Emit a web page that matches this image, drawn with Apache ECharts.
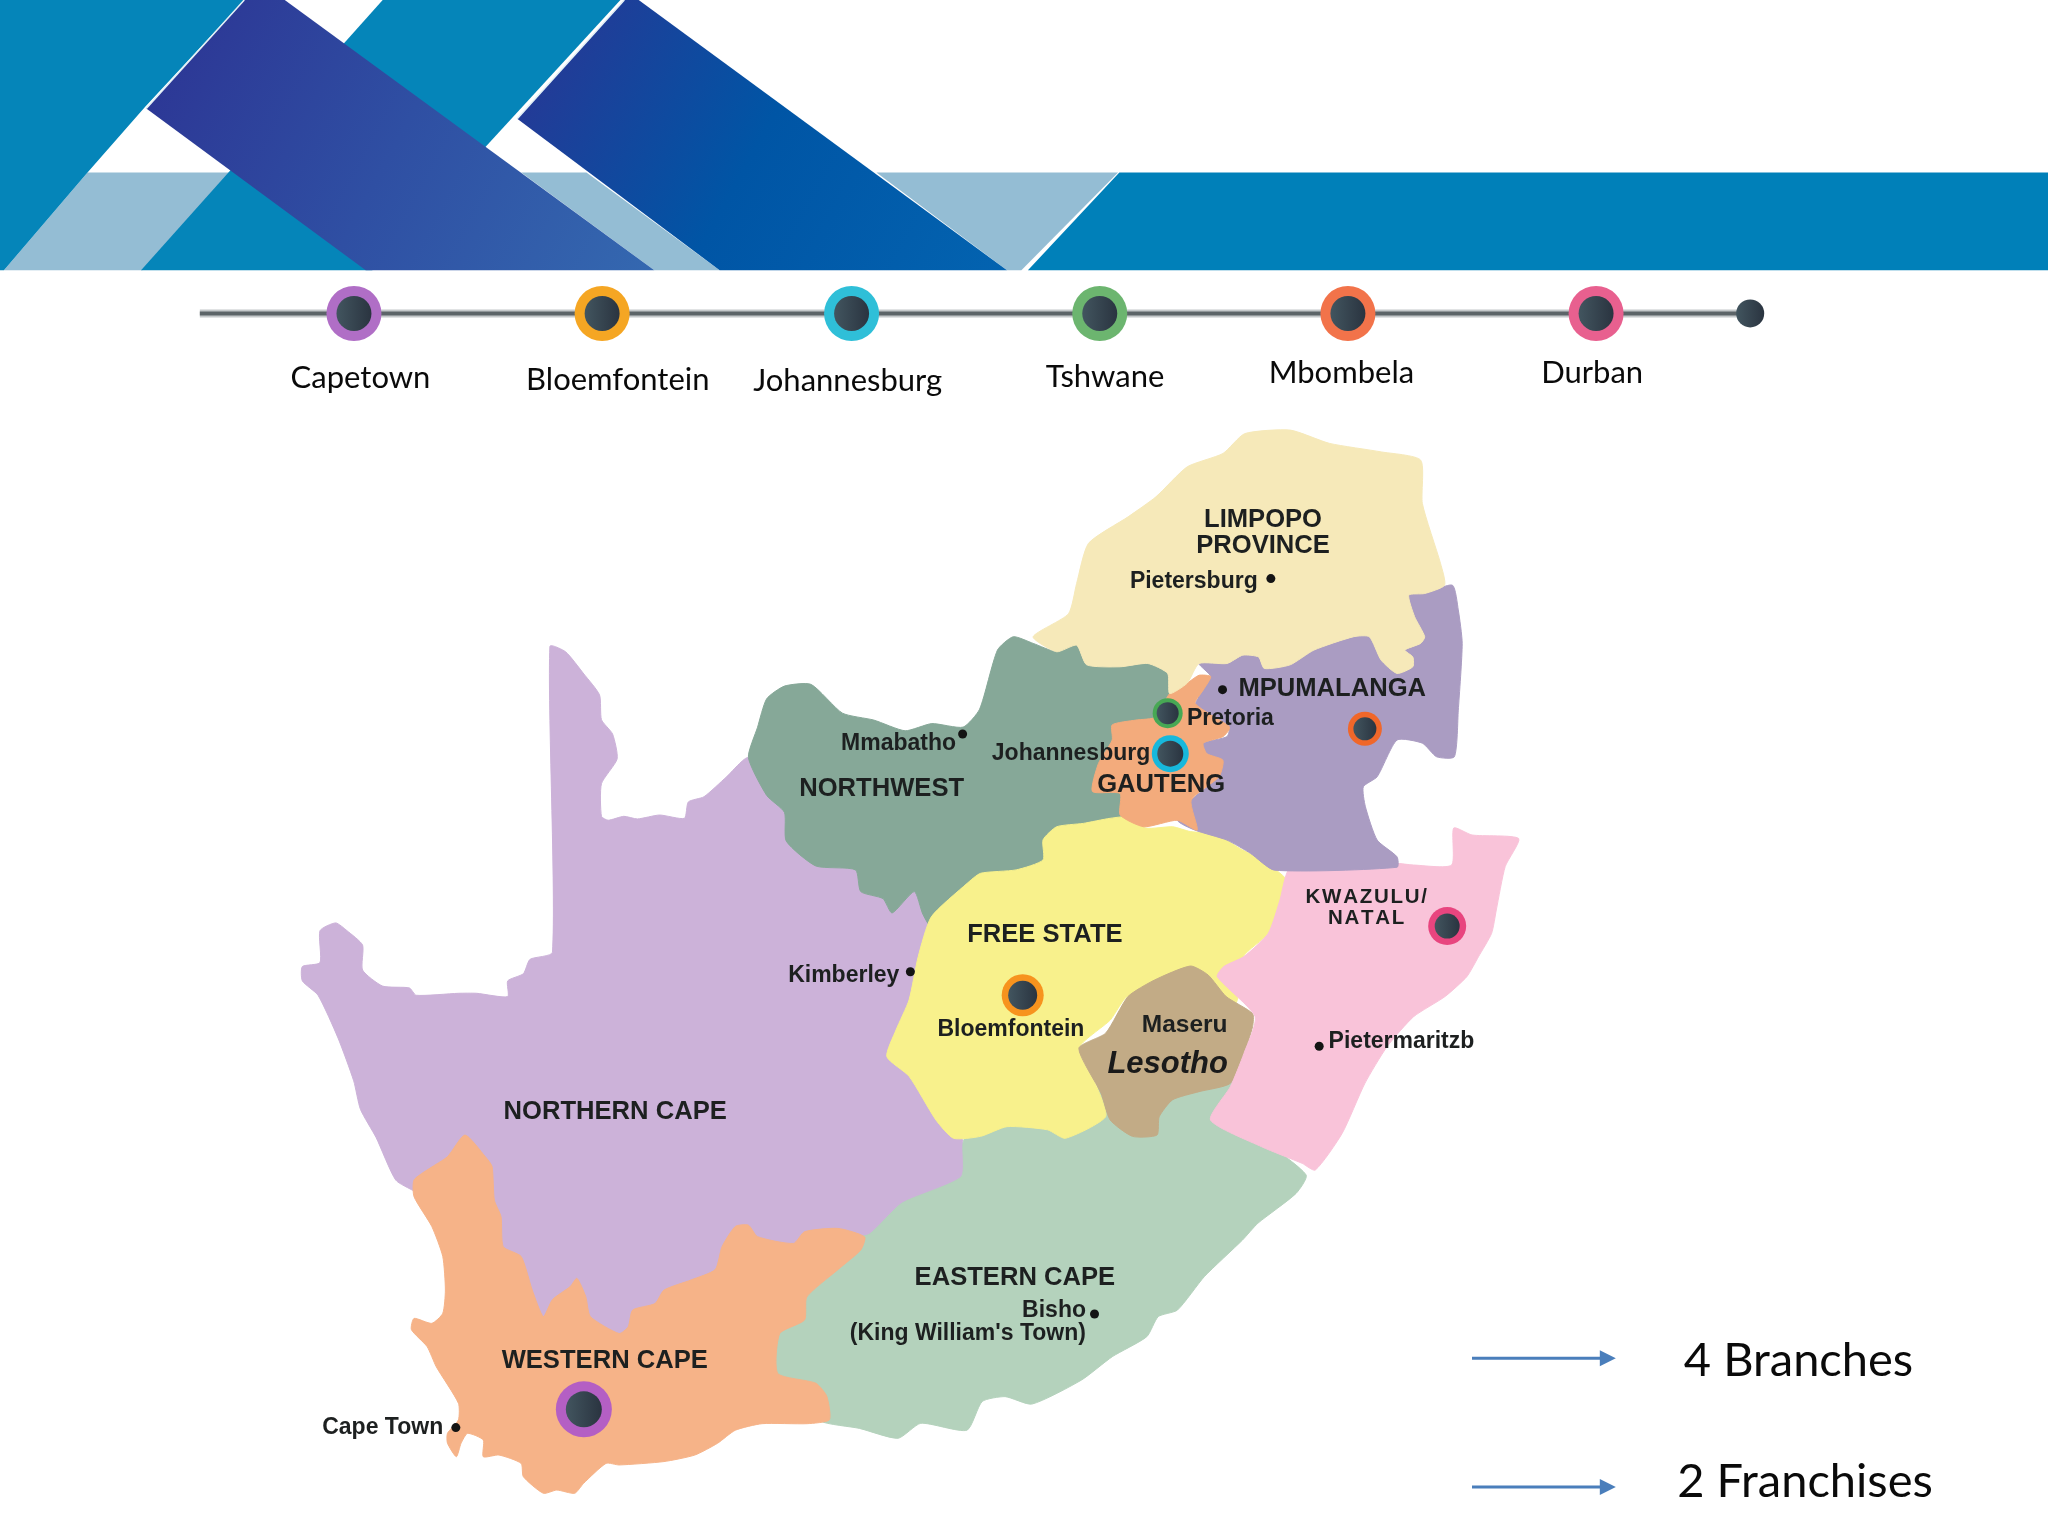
<!DOCTYPE html>
<html><head><meta charset="utf-8">
<style>html,body{margin:0;padding:0;background:#fff}#c{width:2048px;height:1536px}</style>
<script src="https://cdn.jsdelivr.net/npm/echarts@6/dist/echarts.min.js"></script>
</head><body><div id="c"></div>
<script>
// ---------- banner shapes ----------
const bandRight=[[857,132],[1568,132],[1568,207],[787,207]];
const lightLeft=[[67,132],[176,132],[109,207],[3,207]];
const lightMid=[[399,132],[449,132],[551,207],[501,207]];
const lightRight=[[671,132],[856,132],[782,207],[771,207]];
const tealLeft=[[0,0],[187,0],[111,82],[67,132],[3,207],[0,207]];
const tealMid=[[293,0],[475,0],[285,207],[108,207]];
const darkOne=[[187,0],[218,0],[501,207],[280,207],[112,83]];
const darkTwo=[[478,0],[489,0],[771,207],[551,207],[396,91]];
const edgeOne=[[187,0],[112,83]];
const edgeTwo=[[478,0],[396,91]];
// ---------- provinces ----------
const northernCape=[[421,495],[433,499],[447,516],[459,532],[460.5,551],[469,562],[472.5,581],[460.5,600],[460.5,625],[465.6,628],[477.6,625],[488,627],[505,624],[524,626.5],[527,614],[539,610],[556,595],[573,580],[587,609],[600.6,622],[602,644],[624.6,663],[655,666],[659,682.6],[676,688],[683,699],[700,682.6],[706.6,700],[720,720],[720,800],[737,874],[736,901],[690,925],[665,955],[560,965],[474,1030],[400,1000],[360,960],[335,925],[317,912],[303,903.5],[288,871],[276,849.4],[270.8,827.5],[258.8,794.7],[243.5,762],[231.5,751],[231.5,740],[245,737],[245,712.6],[257,706.6],[265.7,712.6],[277.6,723.6],[277.6,742.7],[293,755],[313.5,756.4],[318.6,762],[351,760.5],[365,760.5],[388.7,763],[388.7,751],[400.7,745.5],[405.8,734.5],[423,729]];
const northwest=[[573,580],[580,556.8],[587,535],[600.6,525.3],[621,524],[645,546],[669,551.3],[693,559.5],[713.4,554],[737.4,556.7],[750,543],[763.7,497.7],[775.8,487.5],[791,492.6],[809,499],[824.3,494],[832,509],[857.6,510.5],[878.8,508],[894,515.6],[895.5,533.5],[880,600],[870,640],[827,650],[745,700],[715,712],[706.6,700],[700,682.6],[683,699],[676,688],[659,682.6],[655,666],[624.6,663],[602,644],[600.6,622],[587,609]];
const freeState=[[713,702],[740.5,676.3],[750.8,668.6],[778,666],[798.6,658.4],[798.6,643],[809,633],[829.4,630.4],[850,626.5],[867,625.3],[877.3,634],[897.8,633],[911.4,636.7],[932,639],[949,649.5],[966,658.4],[985,673.7],[980,689],[971,714.6],[952,732.4],[945,770],[880,790],[863.6,763],[850,781],[826,802.6],[839.7,832],[846.5,855],[815.7,871.5],[802,865],[771,862.6],[750.8,870],[730,871.5],[716.6,857.5],[696,824],[679,809],[686,788.6],[696,765.6],[703,732.4]];
const easternCape=[[737.3,875.4],[736,901],[690.4,921.3],[665.5,945],[645,950],[610,985],[610,1012],[590,1020],[588,1052],[615,1062],[625,1075],[628,1088],[658,1093.6],[687.5,1101.2],[705,1089.7],[740.3,1095],[752,1073],[769.6,1069.3],[790,1075],[828,1056.6],[851.6,1038.7],[878,1023.4],[886.8,1008],[901.5,1003],[922,977.5],[951.3,949.4],[963,936.6],[992.3,913.7],[1000,899.6],[966,870],[945,825],[900,820],[850,830],[800,845],[750,850],[742,862]];
const westernCape=[[356,869],[371.6,885.6],[376.7,893],[378.5,919],[383.6,931.5],[385.3,954.5],[399,962],[407.5,987.7],[416,1008],[423,995],[436.6,985],[441.7,978.7],[448.5,992.8],[452,1008],[474,1021],[481,1015.7],[484.4,1003],[501.5,998],[508.4,987.7],[529,980],[547.6,972],[552.8,954.5],[563,939],[573,938],[580,946.8],[607.5,952],[616,943],[641.6,940.5],[662,947],[659,957],[641.6,972],[617.7,993],[616,1010.6],[597,1021],[595.5,1051.5],[624.6,1059],[633,1069],[635,1087],[618,1090],[583.5,1090],[563,1095],[549.4,1105],[532,1114],[508.4,1119],[474,1121.6],[464,1120.4],[446.8,1135.7],[440,1143.3],[426.3,1140.8],[416,1143.3],[400.7,1130.6],[399,1120.4],[382,1114],[370,1115.3],[370,1102.5],[358,1097.4],[353,1105],[349.4,1115.3],[342.6,1105],[342.6,1097.4],[351,1087],[351,1074.4],[334,1046.4],[327,1031],[315,1018],[317,1009.4],[330.6,1013.2],[339,1005.5],[341,987.7],[339,962],[330.6,939],[317,916.2],[317,903.4],[329,894.5],[342.6,885.6]];
const lesotho=[[911.4,739.6],[925,746.5],[938.8,763],[959,776],[959,786],[952.4,806.5],[942,829.4],[918,835.8],[897.8,842],[887.5,855],[885.8,869],[867,870],[850,857.5],[843,837],[826,802.6],[846.5,791],[863.6,763],[884,750.3]];
const kwazulu=[[986.6,666],[1007,661],[1027.6,663.5],[1068.7,661],[1082.3,662.3],[1111.4,662.3],[1113,634],[1127,639.3],[1162.7,642],[1152.4,663.5],[1145.6,696.7],[1142,714.6],[1132,732.4],[1123,747.8],[1106.3,763],[1082.3,778.4],[1062,801.3],[1045,829.4],[1027.6,867.7],[1007,895.8],[997,890.7],[966,878],[926.8,857.5],[942,832],[952.4,806.5],[961,778.4],[932,747.8],[937,740],[952.4,732.4],[971,714.6],[980,689]];
const mpumalanga=[[918,508],[939.4,508],[951.5,501.6],[963.6,503],[968,511.8],[987.8,509],[1006,497.7],[1036.3,487.5],[1048.4,487.5],[1057.4,505.4],[1069.6,515.6],[1081.7,510.5],[1081.7,503],[1075.6,497.7],[1087.7,492.6],[1090.8,487.5],[1083,472],[1078.6,455.6],[1090.8,454.4],[1112,448],[1116.5,467],[1119.5,492.6],[1116.5,543.7],[1113.5,579.4],[1099.9,579.4],[1089,569],[1069.6,566.6],[1054.4,594.7],[1043.8,602.4],[1045.4,617.7],[1054.4,643.2],[1069.6,656],[1069.6,664],[975.7,666.2],[957.5,653.4],[939.4,643.2],[915,635.6],[901.5,628],[912,612.6],[933,594.7],[936,582],[924,577],[921,569],[939.4,564],[941,556.4],[915,541],[921,528.4],[927,518]];
const gauteng=[[927,518],[921.2,528.4],[915,538.6],[941,556],[940.9,559],[936.3,564],[921.2,569],[924,577],[936.3,582],[933.3,594.7],[912,612.6],[916.6,635.6],[901.5,628],[875.8,633],[857.6,624],[857.6,607.5],[836.4,606],[841,584.5],[851.5,566.6],[851.5,555],[869.7,551.3],[885,549],[895.5,531],[909,523],[918,517]];
const limpopo=[[791,487.5],[818,470],[824.3,446.7],[833.4,416],[863.7,395.7],[885,380.4],[909,357.4],[936.3,347.2],[953,332],[987.8,329.3],[1018,339.5],[1057.5,346],[1087.7,352.3],[1089,385.5],[1102.9,431.4],[1106,448],[1090.8,454.4],[1078.6,455.6],[1083,472],[1090.8,487.5],[1087.7,492.6],[1075.6,497.7],[1081.7,503],[1081.7,510.5],[1069.6,515.6],[1057.4,505.4],[1048.4,487.5],[1036.3,487.5],[1006,497.7],[987.8,509],[968,511.8],[963.6,503],[951.5,501.6],[939.4,508],[918,508],[909,523],[895.5,531],[894,515.6],[878.8,508],[857.6,510.5],[832,509],[824.3,494],[809,499]];
// ---------- timeline ----------
const timelineEnds=[[153,240],[1340,240]];
const stopNames=['Capetown','Bloemfontein','Johannesburg','Tshwane','Mbombela','Durban'];
const stopPoints=[[271,240],[461,240],[652,240],[842,240],[1032,240],[1222,240]];
const stopEndPoint=[[1340,240]];
const stopLabelPoints=[[276,289],[473,290],[649,291],[846,288],[1027,285],[1219,285]];
// ---------- cities on the map ----------
const cityPoints=[[447,1079],[783,762],[896,577],[894,546],[1045,558],[1108,709]];
const smallDots=[[973,443],[936,528],[737,562],[697,744],[1010,801],[838,1006],[349,1093]];
// ---------- map text ----------
const capsLabels=[['LIMPOPO',967,397],['PROVINCE',967,417],['MPUMALANGA',1020,526],['GAUTENG',889,600],['NORTHWEST',675,603],['FREE STATE',800,715],['NORTHERN CAPE',471,850],['EASTERN CAPE',777,977],['WESTERN CAPE',463,1041]];
const placeLabels=[['Pietersburg',914,444],['Pretoria',942,549],['Johannesburg',820,576],['Mmabatho',688,568],['Kimberley',646,746],['Bloemfontein',774,787],['Pietermaritzb',1073,796],['Bisho',807,1002],["(King William's Town)",741,1020],['Cape Town',293,1092]];
const maseruLabels=[['Maseru',907,784]];
const spacedLabels=[['K\u200AW\u200AA\u200AZ\u200AU\u200AL\u200AU\u200A/',1046,686],['N\u200AA\u200AT\u200AA\u200AL',1046,702]];
const italicLabels=[['Lesotho',894,814]];
// ---------- notes ----------
const noteLabels=[['4 Branches',1377,1041],['2 Franchises',1382,1134]];
const arrowOne=[[1127,1040],[1232,1040]];
const arrowTwo=[[1127,1138.5],[1232,1138.5]];
const arrowHeads=[[1231,1040],[1231,1138.5]];

// ---------- styles ----------
const G=(a,b,c,d,stops)=>new echarts.graphic.LinearGradient(a,b,c,d,stops.map((s,i)=>({offset:i/(stops.length-1),color:s})));
const bannerFills=[
 [bandRight,'#0080b9'],[lightLeft,'#94bdd4'],[lightMid,'#94bdd4'],[lightRight,'#94bdd4'],
 [tealLeft,'#0585b9'],[tealMid,'#0585b9'],
 [darkOne,G(0,0,1,1,['#2c3393','#2f4fa3','#3468b0'])],
 [darkTwo,G(0,0,1,1,['#2c3493','#0055a5','#0363b0'])]];
const regionFills=[
 [northernCape,'#ccb2d9'],[northwest,'#86a898'],[easternCape,'#b4d2bc'],[freeState,'#f8f18c'],
 [westernCape,'#f6b388'],[lesotho,'#c2ab86'],[kwazulu,'#f9c3d9'],[mpumalanga,'#aa9cc2'],
 [gauteng,'#f3ab7c'],[limpopo,'#f6e9b9']];
const ringColors=['#b06ec6','#f5a623','#2fbfd8','#6cb56f','#f2734a','#e8608f'];
const cityRingColors=['#b45fc4','#f7931e','#17b8dc','#47a854','#f0672a','#e8457f'];
const cityRingSizes=[56,42,37,30,34,38];
const cityCoreSizes=[36,29,26,22,23,25];
const coreFill=()=>G(0,0,1,0,['#42555f','#2a3440']);

const polySeries=(fills,z,smooth)=>({type:'custom',coordinateSystem:'cartesian2d',silent:true,z,clip:false,
 data:fills.map(f=>f[0][0]),
 renderItem:(p,api)=>{const f=fills[p.dataIndex];
  return {type:'polygon',shape:{points:f[0].map(q=>api.coord(q)),smooth},
   style:{fill:f[1],stroke:smooth?f[1]:null,lineWidth:smooth?1:0}};}});
const lineSeries=(pts,color,width,z)=>({type:'line',data:pts,symbol:'none',silent:true,z,
 lineStyle:{color,width,cap:'butt',opacity:1}});
const dotSeries=(pts,sizes,colors,z)=>({type:'scatter',silent:true,z,
 data:pts.map((p,i)=>({value:p,symbolSize:sizes[i],itemStyle:{opacity:1,color:typeof colors==='function'?colors():colors[i]}}))});
const textSeries=(rows,font,color,z)=>({type:'scatter',silent:true,z,symbolSize:1,itemStyle:{color:'transparent',opacity:1},
 data:rows.map(r=>({value:[r[1],r[2]],name:r[0]})),
 label:Object.assign({show:true,position:'inside',formatter:'{b}',color,align:'center',verticalAlign:'middle',opacity:1},font)});

const arial=(size,extra)=>Object.assign({fontFamily:'Liberation Sans',fontWeight:'bold',fontSize:size,offset:[0,1.5]},extra||{});
const lato=size=>({fontFamily:'Lato',fontWeight:'normal',fontSize:size,offset:[0,1]});
const stopLabels=stopNames.map((n,i)=>[n,stopLabelPoints[i][0],stopLabelPoints[i][1]]);

const chart=echarts.init(document.getElementById('c'));
chart.setOption({
 animation:false,backgroundColor:'#fff',
 grid:{left:0,right:0,top:0,bottom:0},
 xAxis:{type:'value',min:0,max:1568,show:false},
 yAxis:{type:'value',min:0,max:1176,inverse:true,show:false},
 series:[
  polySeries(bannerFills,1,0),
  lineSeries(edgeOne,'#e3f0f7',1.5,2),
  lineSeries(edgeTwo,'#e3f0f7',1.5,2),
  lineSeries(timelineEnds,'#c4c8ca',8,3),
  lineSeries(timelineEnds,'#5c6468',4,4),
  dotSeries(stopPoints,stopPoints.map(()=>55),ringColors,5),
  dotSeries(stopPoints,stopPoints.map(()=>35),coreFill,6),
  dotSeries(stopEndPoint,[28],coreFill,6),
  textSeries(stopLabels,lato(31),'#0a0a0a',7),
  polySeries(regionFills,8,0.2),
  dotSeries(smallDots,smallDots.map(()=>9),()=>'#141414',9),
  dotSeries(cityPoints,cityRingSizes,cityRingColors,10),
  dotSeries(cityPoints,cityCoreSizes,coreFill,11),
  textSeries(capsLabels,arial(25.6),'#1d2020',12),
  textSeries(placeLabels,arial(23),'#1d2020',12),
  textSeries(maseruLabels,arial(24.5),'#1d2020',12),
  textSeries(spacedLabels,arial(20.5),'#1d2020',12),
  textSeries(italicLabels,arial(31,{fontStyle:'italic'}),'#1a1a1a',12),
  lineSeries(arrowOne,'#4a7ebb',3,13),
  lineSeries(arrowTwo,'#4a7ebb',3,13),
  {type:'scatter',silent:true,z:13,symbol:'triangle',symbolRotate:-90,symbolSize:[16,16],
   itemStyle:{color:'#4a7ebb',opacity:1},data:arrowHeads},
  textSeries(noteLabels,lato(47),'#0a0a0a',14)
 ]
});
</script></body></html>
